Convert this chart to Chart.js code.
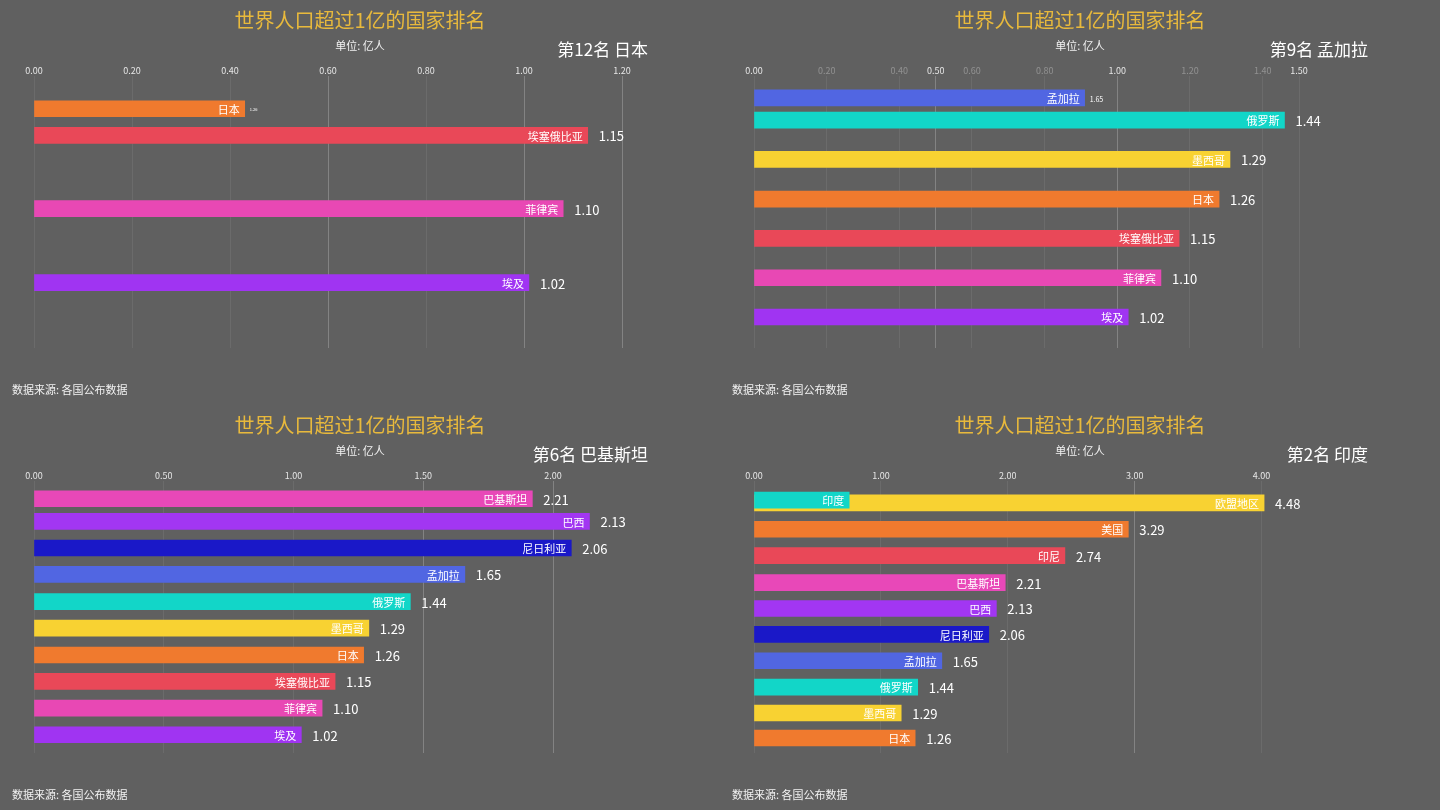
<!DOCTYPE html>
<html lang="zh-CN">
<head>
<meta charset="UTF-8">
<title>世界人口超过1亿的国家排名</title>
<script src="https://cdn.jsdelivr.net/npm/chart.js@4.4.1/dist/chart.umd.min.js"></script>
<style>
  body { margin: 0; background: #606060; width: 1440px; height: 810px; overflow: hidden; }
  .panel { position: absolute; width: 720px; height: 405px; }
</style>
</head>
<body>
<div class="panel" style="left:0;top:0"><canvas id="c1" width="720" height="405"></canvas></div>
<div class="panel" style="left:720px;top:0"><canvas id="c2" width="720" height="405"></canvas></div>
<div class="panel" style="left:0;top:405px"><canvas id="c3" width="720" height="405"></canvas></div>
<div class="panel" style="left:720px;top:405px"><canvas id="c4" width="720" height="405"></canvas></div>

<script>
const fontCJK = '"Noto Sans CJK SC", "Noto Sans", sans-serif';

// frame 1: 第12名 日本
const names1 = ['日本', '埃塞俄比亚', '菲律宾', '埃及'];
const values1 = [0.43, 1.13, 1.08, 1.01];
const shown1 = ['1.26', '1.15', '1.10', '1.02'];
const ranks1 = [1.21, 2.19, 4.88, 7.6];
const ticks1 = [0, 0.2, 0.4, 0.6, 0.8, 1.0, 1.2];

// frame 2: 第9名 孟加拉
const names2 = ['孟加拉', '俄罗斯', '墨西哥', '日本', '埃塞俄比亚', '菲律宾', '埃及'];
const values2 = [0.91, 1.46, 1.31, 1.28, 1.17, 1.12, 1.03];
const shown2 = ['1.65', '1.44', '1.29', '1.26', '1.15', '1.10', '1.02'];
const ranks2 = [0.81, 1.63, 3.07, 4.53, 5.97, 7.42, 8.86];
const ticks2 = [0, 0.2, 0.4, 0.5, 0.6, 0.8, 1.0, 1.2, 1.4, 1.5];

// frame 3: 第6名 巴基斯坦
const names3 = ['巴基斯坦', '巴西', '尼日利亚', '孟加拉', '俄罗斯', '墨西哥', '日本', '埃塞俄比亚', '菲律宾', '埃及'];
const values3 = [1.92, 2.14, 2.07, 1.66, 1.45, 1.29, 1.27, 1.16, 1.11, 1.03];
const shown3 = ['2.21', '2.13', '2.06', '1.65', '1.44', '1.29', '1.26', '1.15', '1.10', '1.02'];
const ranks3 = [0.66, 1.49, 2.47, 3.44, 4.44, 5.41, 6.4, 7.37, 8.35, 9.33];
const ticks3 = [0, 0.5, 1.0, 1.5, 2.0];

// frame 4: 第2名 印度
const names4 = ['欧盟地区', '美国', '印尼', '巴基斯坦', '巴西', '尼日利亚', '孟加拉', '俄罗斯', '墨西哥', '日本', '印度'];
const values4 = [4.02, 2.95, 2.45, 1.98, 1.91, 1.85, 1.48, 1.29, 1.16, 1.27, 0.75];
const shown4 = ['4.48', '3.29', '2.74', '2.21', '2.13', '2.06', '1.65', '1.44', '1.29', '1.26', ''];
const ranks4 = [0.81, 1.78, 2.75, 3.74, 4.69, 5.64, 6.61, 7.58, 8.53, 9.45, 0.71];
const ticks4 = [0, 1, 2, 3, 4];

const countryColors = {
    '日本': '#f07a2e',
    '埃塞俄比亚': '#e94858',
    '菲律宾': '#e848b4',
    '埃及': '#a034f2',
    '孟加拉': '#5166e2',
    '俄罗斯': '#12d6c8',
    '墨西哥': '#f8d232',
    '巴基斯坦': '#e848b8',
    '巴西': '#a236f2',
    '尼日利亚': '#1a18c8',
    '欧盟地区': '#f8d232',
    '美国': '#f07a2e',
    '印尼': '#e94858',
    '印度': '#12d6c8'
};

// texts around each frame
const panelText = {
    id: 'panelText',
    afterDraw(chart, args, opts) {
        const ctx = chart.ctx;
        ctx.save();
        ctx.textBaseline = 'middle';
        ctx.textAlign = 'center';
        ctx.fillStyle = '#e8b93c';
        ctx.font = '20px ' + fontCJK;
        ctx.fillText('世界人口超过1亿的国家排名', 360, 20);
        ctx.fillStyle = '#f2f2f2';
        ctx.font = '11px ' + fontCJK;
        ctx.fillText('单位: 亿人', 360, 46);
        ctx.textAlign = 'right';
        ctx.fillStyle = '#ffffff';
        ctx.font = '17px ' + fontCJK;
        ctx.fillText(opts.rank, 648, 50);
        ctx.textAlign = 'left';
        ctx.fillStyle = '#f2f2f2';
        ctx.font = '11px ' + fontCJK;
        ctx.fillText('数据来源: 各国公布数据', 12, 390);
        ctx.restore();
    }
};

// name inside the bar, value after it
const barLabels = {
    id: 'barLabels',
    afterDatasetsDraw(chart, args, opts) {
        const ctx = chart.ctx;
        const meta = chart.getDatasetMeta(0);
        ctx.save();
        ctx.textBaseline = 'middle';
        ctx.fillStyle = '#ffffff';
        meta.data.forEach(function (bar, i) {
            ctx.textAlign = 'right';
            ctx.font = '11px ' + fontCJK;
            ctx.fillText(opts.names[i], bar.x - 5, bar.y + 1);
            if (opts.shown[i]) {
                const size = opts.small[i] || 13;
                ctx.textAlign = 'left';
                ctx.font = size + 'px ' + fontCJK;
                ctx.fillText(opts.shown[i], bar.x + (size < 13 ? 5 : 11), bar.y + 1);
            }
        });
        ctx.restore();
    }
};

function makeChart(id, rank, names, values, shown, ranks, tickList, max, padRight, bright, faded, small) {
    return new Chart(document.getElementById(id), {
        type: 'bar',
        data: {
            datasets: [{
                data: names.map(function (n, i) { return { x: values[i], y: ranks[i] }; }),
                backgroundColor: names.map(function (n) { return countryColors[n]; }),
                barThickness: 16,
                borderWidth: 0
            }]
        },
        options: {
            indexAxis: 'y',
            responsive: false,
            animation: false,
            layout: { padding: { left: 34, right: padRight, top: 65, bottom: 57 } },
            scales: {
                x: {
                    type: 'linear',
                    position: 'top',
                    min: 0,
                    max: max,
                    afterBuildTicks: function (scale) {
                        scale.ticks = tickList.map(function (v) { return { value: v }; });
                    },
                    border: { display: false },
                    grid: {
                        drawTicks: false,
                        lineWidth: 1,
                        color: function (c) {
                            return bright.includes(c.tick.value) ? 'rgba(255,255,255,0.22)' : 'rgba(255,255,255,0.07)';
                        }
                    },
                    ticks: {
                        autoSkip: false,
                        maxRotation: 0,
                        padding: 0,
                        font: { size: 9, family: fontCJK },
                        color: function (c) {
                            return faded.includes(c.tick.value) ? 'rgba(255,255,255,0.3)' : '#e6e6e6';
                        },
                        callback: function (v) { return Number(v).toFixed(2); }
                    }
                },
                y: {
                    type: 'linear',
                    reverse: true,
                    offset: false,
                    min: 0,
                    max: 10,
                    display: false
                }
            },
            plugins: {
                legend: { display: false },
                tooltip: { enabled: false },
                panelText: { rank: rank },
                barLabels: { names: names, shown: shown, small: small }
            }
        },
        plugins: [panelText, barLabels]
    });
}

makeChart('c1', '第12名 日本', names1, values1, shown1, ranks1, ticks1, 1.2, 98,
    [0.6, 1.0, 1.2], [], [4]);
makeChart('c2', '第9名 孟加拉', names2, values2, shown2, ranks2, ticks2, 1.5, 141,
    [0.5, 1.0], [0.2, 0.4, 0.6, 0.8, 1.2, 1.4], [7]);
makeChart('c3', '第6名 巴基斯坦', names3, values3, shown3, ranks3, ticks3, 2.25, 102,
    [1.5, 2.0], [], []);
makeChart('c4', '第2名 印度', names4, values4, shown4, ranks4, ticks4, 4.5, 115,
    [3], [], []);
</script>
</body>
</html>
